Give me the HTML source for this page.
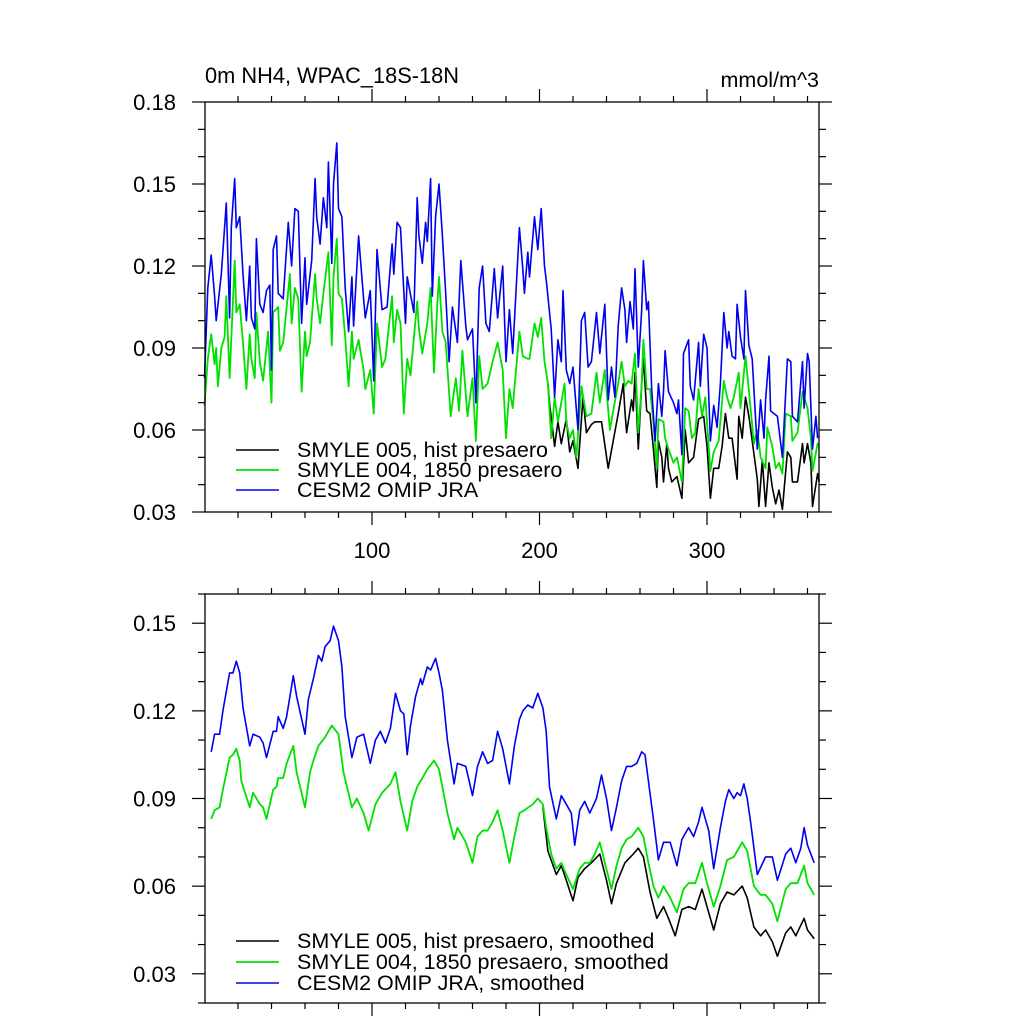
<!DOCTYPE html>
<html><head><meta charset="utf-8"><style>
html,body{margin:0;padding:0;background:#fff;}
svg{display:block;font-family:"Liberation Sans",Arial,sans-serif;}
</style></head><body>
<svg id="chart" width="1024" height="1024" viewBox="0 0 1024 1024" xmlns="http://www.w3.org/2000/svg">
<rect x="0" y="0" width="1024" height="1024" fill="#fff"/>
<text x="205" y="83" font-size="21.8">0m NH4, WPAC_18S-18N</text>
<text x="819" y="87" font-size="21.5" text-anchor="end">mmol/m^3</text>
<g id="top"></g>
<g id="bot"></g>
</svg>
<script>
// ---- Data: top panel (daily) ----
const topBlueDays=[0,2,4,6,7,10,13,15,16,18,19,21,23,25,27,28,30,31,33,35,37,39,40,41,43,44,47,50,52,54,56,58,60,61,64,66,67,69,71,73,74,76,77,79,80,82,84,86,88,89,92,95,96,99,101,103,106,109,112,113,115,117,120,121,125,127,128,130,132,133,135,136,138,140,142,144,146,148,151,153,156,157,160,162,164,166,168,170,173,175,178,180,182,184,188,190,191,193,194,197,199,201,203,204,207,209,211,213,214,216,218,220,223,225,227,229,231,234,236,239,241,243,245,247,249,251,252,254,256,257,259,261,262,264,265,267,269,271,273,274,275,277,280,282,283,285,286,289,290,292,295,296,298,300,302,304,306,308,310,312,313,315,317,318,320,322,323,325,327,330,332,334,335,337,338,340,342,345,348,350,351,354,357,358,360,361,363,365,366];
const topBlueVals=[0.079,0.112,0.124,0.109,0.100,0.117,0.143,0.101,0.134,0.152,0.134,0.138,0.117,0.100,0.120,0.101,0.097,0.130,0.106,0.103,0.111,0.113,0.082,0.126,0.131,0.110,0.108,0.136,0.120,0.141,0.140,0.099,0.123,0.106,0.122,0.152,0.138,0.128,0.145,0.134,0.158,0.121,0.150,0.165,0.141,0.138,0.112,0.096,0.116,0.098,0.131,0.108,0.101,0.111,0.078,0.126,0.104,0.105,0.128,0.117,0.136,0.134,0.099,0.116,0.103,0.145,0.131,0.121,0.136,0.129,0.152,0.109,0.138,0.150,0.131,0.110,0.085,0.105,0.092,0.122,0.098,0.093,0.097,0.070,0.112,0.120,0.099,0.096,0.119,0.101,0.120,0.085,0.104,0.088,0.134,0.119,0.110,0.125,0.116,0.138,0.126,0.141,0.120,0.115,0.097,0.072,0.093,0.085,0.111,0.082,0.077,0.083,0.060,0.100,0.103,0.083,0.085,0.103,0.088,0.106,0.071,0.083,0.072,0.098,0.112,0.104,0.092,0.107,0.097,0.119,0.083,0.104,0.122,0.104,0.107,0.075,0.056,0.077,0.065,0.074,0.089,0.074,0.070,0.066,0.071,0.051,0.088,0.093,0.076,0.071,0.092,0.076,0.095,0.090,0.056,0.069,0.061,0.077,0.103,0.090,0.096,0.087,0.086,0.106,0.094,0.086,0.111,0.091,0.086,0.053,0.071,0.057,0.071,0.087,0.067,0.066,0.065,0.050,0.086,0.085,0.065,0.063,0.085,0.068,0.088,0.085,0.053,0.065,0.057];
const topGreenDays=[0,2,4,6,7,8,10,12,13,15,18,19,21,23,25,27,28,30,31,33,35,38,40,41,44,45,47,51,52,54,56,58,60,61,63,66,67,69,71,74,76,77,79,80,82,84,86,88,89,92,95,96,99,101,103,106,108,112,113,115,117,119,121,123,127,128,130,133,135,137,139,140,142,144,147,150,152,154,157,160,162,164,166,169,172,175,178,180,182,184,188,190,193,194,197,199,201,203,205,207,209,211,215,216,218,220,222,225,228,231,234,236,239,242,244,247,249,251,253,255,257,259,261,262,264,266,268,270,271,274,275,277,280,282,285,287,289,291,293,295,297,299,302,304,307,310,312,314,316,319,320,323,326,328,330,332,335,336,339,341,343,345,347,350,351,354,357,360,362,363,366,367];
const topGreenVals=[0.069,0.086,0.095,0.084,0.090,0.076,0.090,0.094,0.109,0.079,0.122,0.103,0.106,0.092,0.075,0.095,0.086,0.079,0.103,0.085,0.078,0.096,0.070,0.103,0.105,0.089,0.092,0.117,0.099,0.112,0.108,0.074,0.096,0.087,0.092,0.117,0.108,0.099,0.110,0.125,0.091,0.116,0.130,0.110,0.108,0.094,0.076,0.096,0.086,0.093,0.082,0.075,0.082,0.066,0.099,0.083,0.086,0.109,0.092,0.104,0.099,0.066,0.086,0.080,0.107,0.097,0.088,0.099,0.112,0.081,0.106,0.116,0.096,0.092,0.065,0.079,0.067,0.089,0.065,0.079,0.056,0.087,0.075,0.077,0.085,0.092,0.082,0.057,0.075,0.068,0.096,0.087,0.086,0.086,0.099,0.094,0.101,0.085,0.077,0.057,0.072,0.063,0.077,0.063,0.057,0.060,0.050,0.076,0.065,0.066,0.081,0.070,0.082,0.060,0.067,0.077,0.085,0.076,0.078,0.077,0.088,0.059,0.077,0.093,0.075,0.075,0.063,0.046,0.064,0.063,0.057,0.053,0.048,0.050,0.041,0.068,0.067,0.057,0.059,0.075,0.065,0.072,0.045,0.052,0.056,0.078,0.072,0.068,0.072,0.081,0.068,0.087,0.068,0.055,0.060,0.050,0.046,0.061,0.054,0.046,0.048,0.044,0.066,0.065,0.056,0.059,0.074,0.068,0.057,0.045,0.055,0.054];
const topBlackDays=[205,206,209,211,213,216,218,220,223,226,228,231,233,237,241,244,247,250,251,252,255,256,257,259,261,262,264,266,268,270,271,273,274,276,277,279,282,285,287,289,292,295,298,300,302,304,307,309,311,313,315,318,319,321,323,325,327,330,331,333,335,337,339,341,343,345,348,350,351,354,357,358,360,362,363,366,367];
const topBlackVals=[0.077,0.070,0.054,0.063,0.055,0.064,0.052,0.056,0.046,0.072,0.059,0.062,0.063,0.063,0.046,0.056,0.066,0.077,0.067,0.059,0.071,0.067,0.081,0.053,0.077,0.086,0.067,0.066,0.053,0.039,0.056,0.050,0.041,0.055,0.046,0.041,0.043,0.035,0.060,0.048,0.050,0.064,0.065,0.054,0.035,0.046,0.046,0.054,0.066,0.057,0.057,0.042,0.065,0.057,0.072,0.065,0.056,0.042,0.032,0.049,0.032,0.048,0.039,0.033,0.038,0.031,0.052,0.050,0.041,0.041,0.055,0.048,0.055,0.048,0.032,0.044,0.041];
// ---- Data: bottom panel (smoothed) ----
const botBlueDays=[4,6,9,11,15,17,19,21,23,27,29,33,35,37,41,43,44,47,49,53,55,60,62,65,68,70,72,75,77,80,82,84,88,91,95,99,102,105,108,111,114,117,119,121,123,126,129,130,133,135,138,140,142,145,149,151,156,160,163,166,169,172,175,178,182,185,188,190,193,196,199,202,204,206,210,213,216,219,221,224,227,230,234,237,240,243,246,249,252,255,258,261,263,265,268,271,274,278,282,285,289,292,295,297,301,304,308,311,313,316,318,320,322,324,326,330,335,339,342,347,350,353,356,358,360,364];
const botBlueVals=[0.106,0.112,0.112,0.120,0.133,0.133,0.137,0.133,0.121,0.108,0.112,0.111,0.109,0.104,0.113,0.113,0.118,0.114,0.118,0.132,0.125,0.112,0.124,0.131,0.139,0.137,0.142,0.144,0.149,0.144,0.135,0.118,0.104,0.111,0.112,0.102,0.110,0.113,0.109,0.114,0.126,0.120,0.119,0.105,0.115,0.125,0.131,0.129,0.135,0.134,0.138,0.133,0.127,0.110,0.095,0.102,0.101,0.091,0.101,0.106,0.102,0.103,0.113,0.107,0.095,0.108,0.117,0.120,0.122,0.121,0.126,0.121,0.113,0.094,0.083,0.091,0.088,0.085,0.074,0.086,0.089,0.085,0.090,0.098,0.090,0.079,0.087,0.096,0.101,0.101,0.102,0.106,0.105,0.096,0.083,0.069,0.075,0.075,0.067,0.076,0.080,0.077,0.082,0.087,0.079,0.066,0.080,0.089,0.093,0.090,0.092,0.091,0.095,0.090,0.082,0.064,0.070,0.070,0.062,0.071,0.073,0.068,0.073,0.080,0.074,0.068];
const botGreenDays=[4,6,9,11,15,17,19,21,22,27,29,33,35,37,41,43,44,47,49,53,55,60,63,65,68,72,76,80,83,88,91,95,98,102,106,111,114,117,121,124,127,130,133,137,140,145,149,151,156,160,163,166,169,172,175,178,182,185,188,191,196,199,202,204,207,210,213,216,220,224,227,230,233,236,239,243,246,249,252,255,259,262,265,268,271,274,278,282,286,289,293,297,300,304,308,312,316,321,324,328,332,335,339,342,347,350,354,358,360,364];
const botGreenVals=[0.083,0.086,0.087,0.093,0.104,0.105,0.107,0.103,0.096,0.087,0.092,0.088,0.087,0.083,0.093,0.094,0.097,0.097,0.102,0.108,0.099,0.087,0.099,0.103,0.108,0.111,0.115,0.112,0.099,0.087,0.090,0.085,0.079,0.088,0.092,0.095,0.099,0.089,0.079,0.089,0.094,0.097,0.100,0.103,0.100,0.085,0.076,0.080,0.075,0.068,0.077,0.079,0.079,0.082,0.086,0.079,0.068,0.077,0.085,0.086,0.088,0.090,0.088,0.080,0.071,0.066,0.068,0.064,0.059,0.066,0.068,0.068,0.071,0.075,0.068,0.059,0.067,0.073,0.076,0.077,0.080,0.077,0.068,0.060,0.056,0.060,0.056,0.051,0.059,0.061,0.061,0.068,0.061,0.053,0.060,0.069,0.070,0.075,0.072,0.060,0.057,0.057,0.054,0.048,0.059,0.061,0.061,0.067,0.061,0.057];
const botBlackDays=[202,205,210,213,216,220,223,227,231,236,240,243,246,251,256,259,262,266,270,274,277,281,285,289,293,297,300,304,308,312,316,321,324,328,332,335,339,342,347,350,353,358,360,364];
const botBlackVals=[0.087,0.072,0.064,0.067,0.062,0.055,0.063,0.066,0.068,0.071,0.062,0.054,0.061,0.068,0.071,0.073,0.070,0.058,0.049,0.053,0.049,0.043,0.052,0.053,0.052,0.059,0.053,0.045,0.054,0.058,0.057,0.060,0.056,0.046,0.043,0.045,0.041,0.036,0.044,0.046,0.043,0.049,0.045,0.042];
const xTickVals=[100,200,300];
const topYTicks=[0.03,0.06,0.09,0.12,0.15,0.18];
const botYTicks=[0.03,0.06,0.09,0.12,0.15];

const NS='http://www.w3.org/2000/svg';
const L=205,R=819;
const X=d=>204.5+1.675*d;
function mk(parent,tag,attrs){const e=document.createElementNS(NS,tag);for(const k in attrs)e.setAttribute(k,attrs[k]);parent.appendChild(e);return e;}

function panel(g,top,bot,vmin,vmax,yTicks,showXLabels,series,legend,lname){
  const Y=v=>bot-(v-vmin)/(vmax-vmin)*(bot-top);
  series.forEach(s=>{
    let d='';s.days.forEach((dd,i)=>{d+=(i?'L':'M')+X(dd).toFixed(1)+','+Y(s.vals[i]).toFixed(1);});
    const p=mk(g,'path',{d:d,fill:'none',stroke:s.color,'stroke-width':s.w,'stroke-linejoin':'round'});
    
    
  });
  const fr=mk(g,'rect',{x:L,y:top,width:R-L,height:bot-top,fill:'none',stroke:'#000','stroke-width':1.3});
  
  
  const tk=mk(g,'g',{stroke:'#000','stroke-width':1.2});
  
  
  for(let d=20;d<=360;d+=20){
    const x=X(d);if(x<=L+1||x>=R-1)continue;
    const len=(d%100===0)?13:6;
    mk(tk,'line',{x1:x,y1:top,x2:x,y2:top-len});
    mk(tk,'line',{x1:x,y1:bot,x2:x,y2:bot+len});
  }
  for(let k=Math.round(vmin*100);k<=Math.round(vmax*100);k++){
    const v=k/100,y=Y(v);
    const major=yTicks.some(t=>Math.abs(t-v)<1e-6);
    const len=major?13:7;
    mk(tk,'line',{x1:L,y1:y,x2:L-len,y2:y});
    mk(tk,'line',{x1:R,y1:y,x2:R+len,y2:y});
  }
  yTicks.forEach(v=>{
    const t=mk(g,'text',{x:176,y:Y(v)+8,'font-size':22,'text-anchor':'end'});
    t.textContent=v.toFixed(2);
    
    
  });
  if(showXLabels){xTickVals.forEach(d=>{
    const t=mk(g,'text',{x:X(d),y:558,'font-size':22,'text-anchor':'middle'});
    t.textContent=d;
    
    
  });}
  legend.items.forEach((it,i)=>{
    const y=legend.y+i*legend.dy;
    const lg=mk(g,'g',{});
    
    
    mk(lg,'line',{x1:236,y1:y,x2:279,y2:y,stroke:it.color,'stroke-width':it.w});
    const t=mk(lg,'text',{x:297,y:y+7,'font-size':21.5});
    t.textContent=it.label;
  });
}

panel(document.getElementById('top'),102,512,0.03,0.18,topYTicks,true,[
  {name:'top-black-line',days:topBlackDays,vals:topBlackVals,color:'#000',w:1.6},
  {name:'top-green-line',days:topGreenDays,vals:topGreenVals,color:'#00e000',w:1.8},
  {name:'top-blue-line',days:topBlueDays,vals:topBlueVals,color:'#0000f0',w:1.6}
],{y:450,dy:20,items:[
  {label:'SMYLE 005, hist presaero',color:'#000',w:1.5},
  {label:'SMYLE 004, 1850 presaero',color:'#00e000',w:1.8},
  {label:'CESM2 OMIP JRA',color:'#0000f0',w:1.5}]},'top');

panel(document.getElementById('bot'),594,1003,0.02,0.16,botYTicks,false,[
  {name:'bottom-black-line',days:botBlackDays,vals:botBlackVals,color:'#000',w:1.6},
  {name:'bottom-green-line',days:botGreenDays,vals:botGreenVals,color:'#00e000',w:1.8},
  {name:'bottom-blue-line',days:botBlueDays,vals:botBlueVals,color:'#0000f0',w:1.6}
],{y:941,dy:21,items:[
  {label:'SMYLE 005, hist presaero, smoothed',color:'#000',w:1.5},
  {label:'SMYLE 004, 1850 presaero, smoothed',color:'#00e000',w:1.8},
  {label:'CESM2 OMIP JRA, smoothed',color:'#0000f0',w:1.5}]},'bottom');
</script>
</body></html>
